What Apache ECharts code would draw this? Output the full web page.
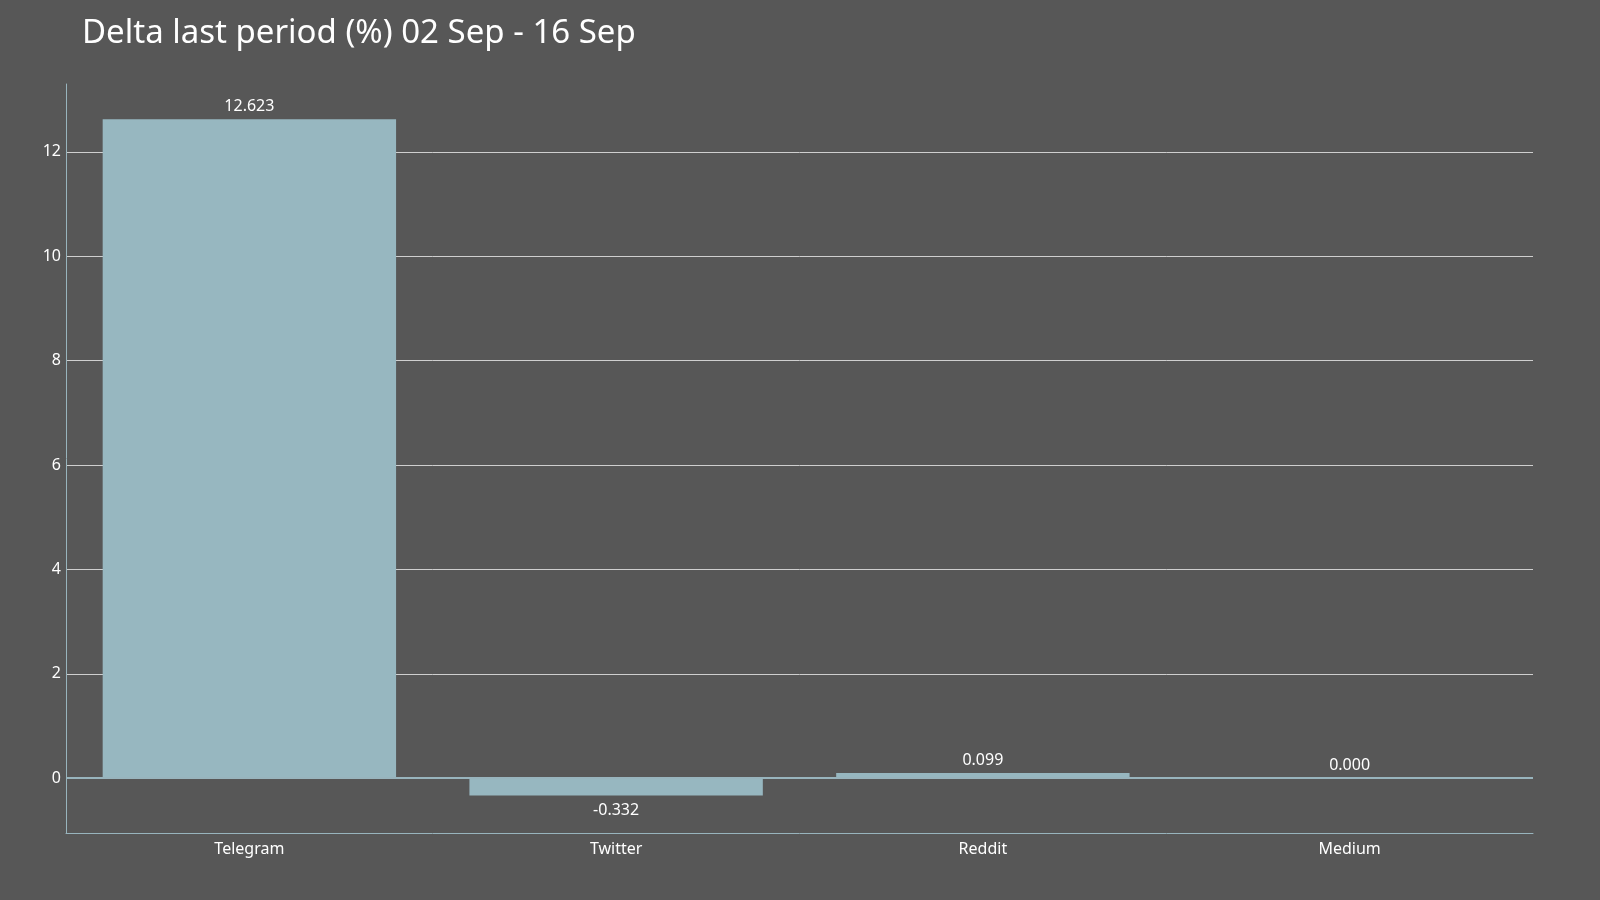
<!DOCTYPE html>
<html><head><meta charset="utf-8">
<script src="https://cdn.jsdelivr.net/npm/echarts@6/dist/echarts.min.js"></script>
<style>html,body{margin:0;padding:0;background:#575757}#c{width:1600px;height:900px}</style>
</head><body><div id="c"></div>
<script>
const categories = ['Telegram', 'Twitter', 'Reddit', 'Medium'];
const values = [12.623, -0.332, 0.099, 0.000];
const yTicks = [0, 2, 4, 6, 8, 10, 12];
const titleText = 'Delta last period (%) 02 Sep - 16 Sep';

const font = '"Noto Sans", "Open Sans", sans-serif';
const chart = echarts.init(document.getElementById('c'));
chart.setOption({
  backgroundColor: '#575757',
  animation: false,
  title: {
    text: titleText, left: 77, top: 12,
    textStyle: { color: '#ffffff', fontSize: 33, fontWeight: 'normal', fontFamily: font }
  },
  grid: { left: 66, right: 67, top: 84, bottom: 67 },
  xAxis: {
    type: 'category', data: categories,
    axisLine: { onZero: false, lineStyle: { color: '#98b4bd', width: 1 } },
    axisTick: { show: false },
    axisLabel: { color: '#ffffff', fontSize: 16, fontFamily: font, margin: 8 }
  },
  yAxis: {
    type: 'value', min: -1.05, max: 13.3,
    axisLine: { show: true, lineStyle: { color: '#98b4bd', width: 1 } },
    axisTick: { show: false, customValues: yTicks },
    axisLabel: { color: '#ffffff', fontSize: 16, fontFamily: font, margin: 5, customValues: yTicks },
    splitLine: { show: true, lineStyle: { color: '#cfcfcf', width: 1 } }
  },
  series: [{
    type: 'bar', barWidth: '80%',
    data: values.map(v => ({
      value: v,
      label: { position: v < 0 ? 'bottom' : 'top', distance: v < 0 ? 7 : 5 }
    })),
    itemStyle: { color: '#97b7c0' },
    label: {
      show: true, color: '#ffffff', fontSize: 16, fontFamily: font,
      formatter: p => p.value.toFixed(3)
    },
    markLine: {
      silent: true, symbol: 'none', label: { show: false },
      lineStyle: { color: '#98b4bd', type: 'solid', width: 2 },
      data: [{ yAxis: 0 }]
    }
  }]
});
</script></body></html>
